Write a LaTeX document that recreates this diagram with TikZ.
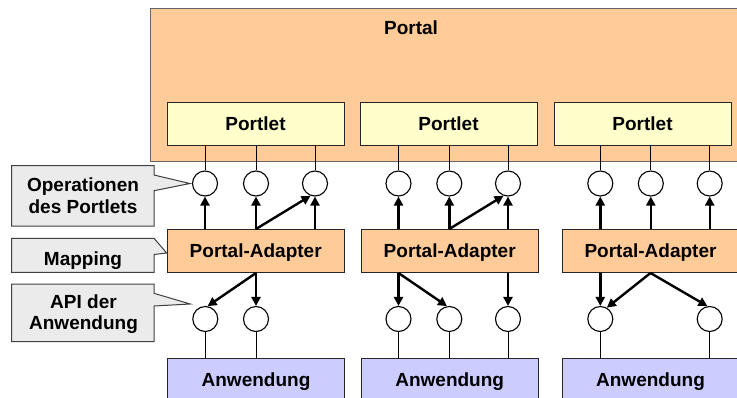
\documentclass[tikz,border=0pt]{standalone}
\usepackage{fontspec}
\setmainfont{Liberation Sans}
\usetikzlibrary{arrows.meta}
\definecolor{peach}{HTML}{FFCC99}
\definecolor{paleyellow}{HTML}{FFFFCC}
\definecolor{lavender}{HTML}{CCCCFF}
\definecolor{calloutgray}{HTML}{EBEBEB}
\begin{document}
\begin{tikzpicture}[x=1pt,y=-1pt,
  box/.style={draw=black!85, line width=1pt, minimum width=177pt, minimum height=43pt,
    inner sep=0pt, text depth=0pt, font=\bfseries\fontsize{19}{22}\selectfont},
  port/.style={draw=black, line width=1.1pt, circle, minimum size=25pt, inner sep=0pt, fill=white},
  wire/.style={line width=1pt},
  flow/.style={line width=2.4pt, -{Triangle[length=9pt,width=9pt]}},
  callout/.style={draw=black!75, fill=calloutgray, line width=1pt},
  ctext/.style={font=\bfseries\fontsize{19}{21.6}\selectfont, align=center, inner sep=0pt}
]
\useasboundingbox (0,0) rectangle (737,397);

% Portal
\node[box, fill=peach, draw=black!60, minimum width=620pt, minimum height=153pt, anchor=north west] (portal) at (150,8) {};
\node[font=\bfseries\fontsize{19}{22}\selectfont, inner sep=0pt, anchor=base] (portaltitle) at (411,34.3) {Portal};

% Portlets
\node[box, fill=paleyellow] (pl1) at (255.5,123.5) {Portlet};
\node[box, fill=paleyellow] (pl2) at (448.5,123.5) {Portlet};
\node[box, fill=paleyellow] (pl3) at (642.5,123.5) {Portlet};

% Adapters
\node[box, fill=peach] (ad1) at (255.7,251) {Portal-Adapter};
\node[box, fill=peach] (ad2) at (449.7,251) {Portal-Adapter};
\node[box, fill=peach] (ad3) at (650.5,251) {Portal-Adapter};

% Applications
\node[box, fill=lavender] (an1) at (256,379.5) {Anwendung};
\node[box, fill=lavender] (an2) at (449.7,379.5) {Anwendung};
\node[box, fill=lavender] (an3) at (650.5,379.5) {Anwendung};

% Upper ports
\node[port] (u11) at (205,183.5) {};
\node[port] (u12) at (256,183.5) {};
\node[port] (u13) at (315,183.5) {};
\node[port] (u21) at (398.5,183.5) {};
\node[port] (u22) at (449.3,183.5) {};
\node[port] (u23) at (508,183.5) {};
\node[port] (u31) at (600.3,183.5) {};
\node[port] (u32) at (650.8,183.5) {};
\node[port] (u33) at (709.7,183.5) {};

% Lower ports
\node[port] (l11) at (205.3,319) {};
\node[port] (l12) at (256,319) {};
\node[port] (l21) at (398.5,319) {};
\node[port] (l22) at (449.3,319) {};
\node[port] (l23) at (508,319) {};
\node[port] (l31) at (600.3,319) {};
\node[port] (l33) at (709.7,319) {};

% Wires portlet -> upper ports
\foreach \p/\u in {pl1/u11,pl1/u12,pl1/u13,pl2/u21,pl2/u22,pl2/u23,pl3/u31,pl3/u32,pl3/u33}
  \draw[wire] (\u.north |- \p.south) -- (\u.north);

% Wires lower ports -> applications
\foreach \a/\l in {an1/l11,an1/l12,an2/l21,an2/l22,an2/l23,an3/l31,an3/l33}
  \draw[wire] (\l.south) -- (\l.south |- \a.north);

% Upper arrows
\foreach \a/\u in {ad1/u11,ad1/u12,ad1/u13,ad2/u21,ad2/u22,ad2/u23,ad3/u31,ad3/u32,ad3/u33}
  \draw[flow] (\u.south |- \a.north) -- (\u.south);
\draw[flow] (u12.south |- ad1.north) -- (u13.250);
\draw[flow] (u22.south |- ad2.north) -- (u23.250);

% Lower arrows
\draw[flow] (l12.north |- ad1.south) -- (l12.north);
\draw[flow] (l12.north |- ad1.south) -- (l11.80);
\draw[flow] (l21.north |- ad2.south) -- (l21.north);
\draw[flow] (l21.north |- ad2.south) -- (l22.100);
\draw[flow] (l23.north |- ad2.south) -- (l23.north);
\draw[flow] (l31.north |- ad3.south) -- (l31.north);
\draw[flow] (ad3.south) -- (l31.60);
\draw[flow] (ad3.south) -- (l33.100);

% Callouts
\draw[callout] (11.7,165.7) -- (154,165.7) -- (154,175) -- ([xshift=-2pt]u11.west) -- (154,190.7) -- (154,226) -- (11.7,226) -- cycle;
\node[ctext] (optext) at (83,195.6) {Operationen\\des Portlets};

\draw[callout] (11.7,238.3) -- (154,238.3) -- (ad1.west |- 0,253) -- (154,254.5) -- (154,272.3) -- (11.7,272.3) -- cycle;
\node[ctext, anchor=base] (maptext) at (83,265) {Mapping};

\draw[callout] (11.7,284) -- (154,284) -- (154,293.3) -- ([xshift=-2pt]l11.west |- 0,304) -- (154,306) -- (154,341.7) -- (11.7,341.7) -- cycle;
\node[ctext] (apitext) at (83.5,314.2) {API der\\Anwendung};
\end{tikzpicture}
\end{document}
